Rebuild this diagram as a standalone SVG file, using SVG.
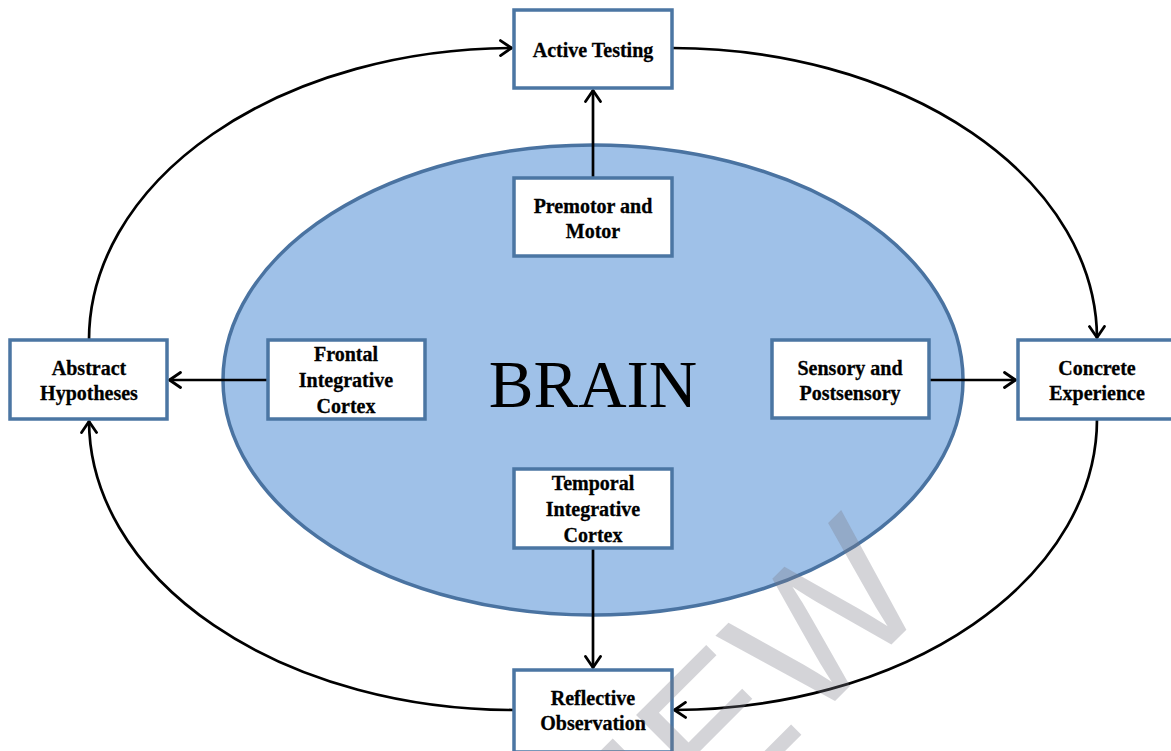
<svg xmlns="http://www.w3.org/2000/svg" width="1171" height="751" viewBox="0 0 1171 751">
<defs>
<marker id="arr" viewBox="0 0 14 18" refX="13" refY="9" markerWidth="14" markerHeight="18" markerUnits="userSpaceOnUse" orient="auto">
<path d="M1.5,1.5 L12.5,9 L1.5,16.5" fill="none" stroke="#000" stroke-width="2.8" stroke-linecap="round" stroke-linejoin="round"/>
</marker>
<style>
.box{fill:#fff;stroke:#4B76A3;stroke-width:3.5}
.t{font-family:'Liberation Serif',serif;font-weight:700;font-size:20px;text-anchor:middle;fill:#000;stroke:#000;stroke-width:0.3}
.c{fill:none;stroke:#000;stroke-width:2.7;marker-end:url(#arr)}
</style>
</defs>
<rect width="1171" height="751" fill="#fff"/>
<g id="brain">
<ellipse cx="593" cy="380" rx="370" ry="235" fill="#9FC1E8" stroke="#4A73A1" stroke-width="3.5"/>
<text x="593" y="407" font-family="'Liberation Serif', serif" font-size="67" text-anchor="middle">BRAIN</text>
</g>
<g id="connectors">
<path class="c" d="M593,178 L593,90"/>
<path class="c" d="M268,380 L169,380"/>
<path class="c" d="M929,380 L1016,380"/>
<path class="c" d="M593,548 L593,668"/>
<path class="c" d="M89,340 A425,292 0 0 1 512,48"/>
<path class="c" d="M672,48 A425,291 0 0 1 1097,338"/>
<path class="c" d="M1097,419 A425,291 0 0 1 674,710"/>
<path class="c" d="M514,710 A425,290 0 0 1 89,421"/>
</g>
<g id="active-testing">
<rect class="box" x="514" y="10" width="158" height="78"/>
<text class="t" x="593" y="57">Active Testing</text>
</g>
<g id="premotor">
<rect class="box" x="514" y="178" width="158" height="78"/>
<text class="t" x="593" y="213">Premotor and</text>
<text class="t" x="593" y="238">Motor</text>
</g>
<g id="abstract-hypotheses">
<rect class="box" x="10" y="340" width="157" height="79"/>
<text class="t" x="89" y="375">Abstract</text>
<text class="t" x="89" y="400">Hypotheses</text>
</g>
<g id="frontal">
<rect class="box" x="268" y="340" width="157" height="79"/>
<text class="t" x="346" y="361">Frontal</text>
<text class="t" x="346" y="387">Integrative</text>
<text class="t" x="346" y="413">Cortex</text>
</g>
<g id="sensory">
<rect class="box" x="772" y="340" width="157" height="78"/>
<text class="t" x="850" y="375">Sensory and</text>
<text class="t" x="850" y="400">Postsensory</text>
</g>
<g id="concrete-experience">
<rect class="box" x="1018" y="340" width="158" height="79"/>
<text class="t" x="1097" y="375">Concrete</text>
<text class="t" x="1097" y="400">Experience</text>
</g>
<g id="temporal">
<rect class="box" x="514" y="469" width="158" height="79"/>
<text class="t" x="593" y="490">Temporal</text>
<text class="t" x="593" y="516">Integrative</text>
<text class="t" x="593" y="542">Cortex</text>
</g>
<g id="reflective-observation">
<rect class="box" x="514" y="670" width="158" height="82"/>
<text class="t" x="593" y="705">Reflective</text>
<text class="t" x="593" y="730">Observation</text>
</g>
<text transform="translate(934,602) rotate(-45)" font-family="'Liberation Sans', Arial, sans-serif" font-size="190" text-anchor="end" fill="#7a7a86" fill-opacity="0.32">PREVIEW</text>
</svg>
